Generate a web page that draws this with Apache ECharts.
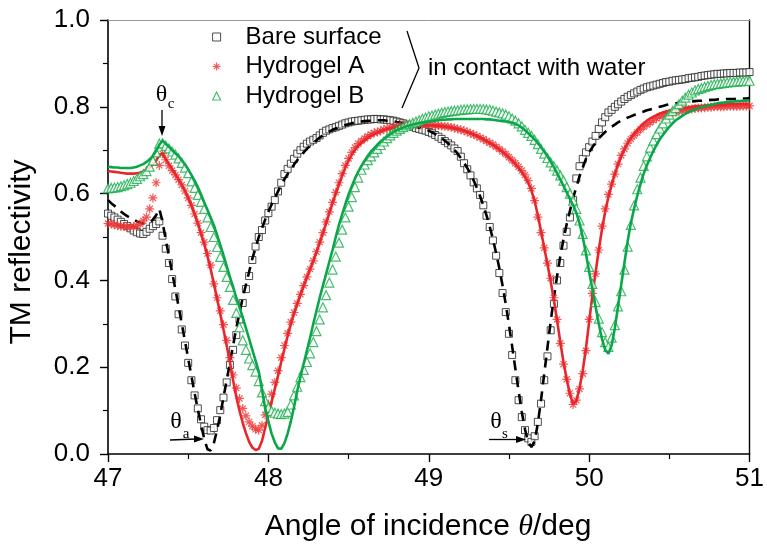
<!DOCTYPE html>
<html>
<head>
<meta charset="utf-8">
<title>TM reflectivity vs angle of incidence</title>
<script src="https://cdn.jsdelivr.net/npm/echarts@6/dist/echarts.min.js"></script>
<style>
  html, body { margin: 0; padding: 0; background: #fff; }
  #chart { width: 767px; height: 551px; }
</style>
</head>
<body>
<div id="chart"></div>
<script>
// Angle of incidence (deg), sampled every 0.02 deg
const angles = [
  47.00,47.02,47.04,47.06,47.08,47.10,47.12,47.14,47.16,47.18,
  47.20,47.22,47.24,47.26,47.28,47.30,47.32,47.34,47.36,47.38,
  47.40,47.42,47.44,47.46,47.48,47.50,47.52,47.54,47.56,47.58,
  47.60,47.62,47.64,47.66,47.68,47.70,47.72,47.74,47.76,47.78,
  47.80,47.82,47.84,47.86,47.88,47.90,47.92,47.94,47.96,47.98,
  48.00,48.02,48.04,48.06,48.08,48.10,48.12,48.14,48.16,48.18,
  48.20,48.22,48.24,48.26,48.28,48.30,48.32,48.34,48.36,48.38,
  48.40,48.42,48.44,48.46,48.48,48.50,48.52,48.54,48.56,48.58,
  48.60,48.62,48.64,48.66,48.68,48.70,48.72,48.74,48.76,48.78,
  48.80,48.82,48.84,48.86,48.88,48.90,48.92,48.94,48.96,48.98,
  49.00,49.02,49.04,49.06,49.08,49.10,49.12,49.14,49.16,49.18,
  49.20,49.22,49.24,49.26,49.28,49.30,49.32,49.34,49.36,49.38,
  49.40,49.42,49.44,49.46,49.48,49.50,49.52,49.54,49.56,49.58,
  49.60,49.62,49.64,49.66,49.68,49.70,49.72,49.74,49.76,49.78,
  49.80,49.82,49.84,49.86,49.88,49.90,49.92,49.94,49.96,49.98,
  50.00,50.02,50.04,50.06,50.08,50.10,50.12,50.14,50.16,50.18,
  50.20,50.22,50.24,50.26,50.28,50.30,50.32,50.34,50.36,50.38,
  50.40,50.42,50.44,50.46,50.48,50.50,50.52,50.54,50.56,50.58,
  50.60,50.62,50.64,50.66,50.68,50.70,50.72,50.74,50.76,50.78,
  50.80,50.82,50.84,50.86,50.88,50.90,50.92,50.94,50.96,50.98,
  51.00
];

// Bare surface: measured reflectivity
const bareMeasured = [
  0.554,0.549,0.545,0.540,0.535,0.530,0.525,0.520,0.515,0.511,
  0.508,0.507,0.512,0.519,0.525,0.530,0.536,0.503,0.473,0.440,
  0.403,0.363,0.322,0.287,0.250,0.210,0.170,0.135,0.105,0.080,
  0.063,0.055,0.054,0.060,0.078,0.101,0.130,0.165,0.205,0.240,
  0.274,0.310,0.348,0.380,0.410,0.447,0.478,0.500,0.516,0.538,
  0.555,0.570,0.585,0.605,0.625,0.645,0.657,0.669,0.680,0.692,
  0.700,0.708,0.715,0.720,0.724,0.728,0.734,0.740,0.745,0.748,
  0.751,0.753,0.756,0.759,0.762,0.764,0.766,0.767,0.768,0.769,
  0.770,0.771,0.771,0.772,0.772,0.771,0.771,0.770,0.769,0.768,
  0.766,0.764,0.762,0.759,0.756,0.754,0.751,0.749,0.747,0.745,
  0.742,0.739,0.735,0.731,0.726,0.721,0.716,0.711,0.704,0.698,
  0.685,0.670,0.656,0.642,0.626,0.612,0.597,0.573,0.549,0.523,
  0.492,0.457,0.417,0.371,0.327,0.277,0.228,0.170,0.124,0.085,
  0.055,0.036,0.028,0.041,0.074,0.116,0.170,0.225,0.285,0.346,
  0.400,0.440,0.480,0.512,0.545,0.585,0.635,0.663,0.680,0.695,
  0.707,0.720,0.733,0.749,0.764,0.776,0.787,0.793,0.800,0.806,
  0.812,0.818,0.823,0.827,0.831,0.835,0.839,0.842,0.845,0.847,
  0.849,0.851,0.853,0.855,0.857,0.858,0.860,0.861,0.862,0.863,
  0.864,0.866,0.867,0.868,0.869,0.871,0.872,0.873,0.874,0.875,
  0.876,0.876,0.877,0.877,0.878,0.878,0.878,0.879,0.879,0.879,
  0.880
];

// Bare surface: fitted curve
const bareFit = [
  0.585,0.578,0.572,0.565,0.559,0.553,0.548,0.544,0.540,0.536,
  0.533,0.531,0.531,0.534,0.540,0.550,0.565,0.535,0.493,0.456,
  0.418,0.380,0.340,0.300,0.260,0.220,0.180,0.140,0.103,0.068,
  0.035,0.011,0.008,0.025,0.055,0.090,0.130,0.170,0.210,0.250,
  0.290,0.325,0.360,0.390,0.420,0.450,0.475,0.500,0.520,0.540,
  0.558,0.575,0.590,0.605,0.620,0.633,0.645,0.656,0.667,0.677,
  0.686,0.695,0.703,0.710,0.717,0.723,0.729,0.734,0.739,0.743,
  0.747,0.750,0.753,0.756,0.758,0.760,0.762,0.764,0.765,0.766,
  0.767,0.768,0.768,0.769,0.769,0.769,0.769,0.768,0.768,0.767,
  0.765,0.764,0.762,0.760,0.758,0.756,0.754,0.752,0.749,0.747,
  0.745,0.741,0.737,0.733,0.728,0.722,0.716,0.709,0.701,0.692,
  0.682,0.671,0.659,0.645,0.630,0.613,0.594,0.573,0.550,0.524,
  0.495,0.463,0.428,0.388,0.345,0.298,0.248,0.196,0.145,0.097,
  0.057,0.027,0.016,0.030,0.070,0.125,0.185,0.245,0.305,0.360,
  0.410,0.455,0.495,0.530,0.560,0.590,0.615,0.640,0.660,0.680,
  0.695,0.707,0.717,0.727,0.735,0.742,0.748,0.754,0.759,0.764,
  0.768,0.771,0.775,0.778,0.781,0.784,0.787,0.789,0.792,0.794,
  0.796,0.798,0.800,0.802,0.804,0.806,0.807,0.808,0.809,0.810,
  0.811,0.812,0.812,0.813,0.814,0.814,0.815,0.815,0.816,0.816,
  0.817,0.817,0.817,0.818,0.818,0.818,0.819,0.819,0.819,0.819,
  0.820
];

// Hydrogel A: measured reflectivity
const gelAMeasured = [
  0.531,0.530,0.528,0.526,0.525,0.524,0.523,0.523,0.524,0.526,
  0.530,0.537,0.546,0.565,0.590,0.625,0.665,0.692,0.678,0.664,
  0.653,0.643,0.632,0.620,0.606,0.590,0.573,0.553,0.532,0.510,
  0.488,0.462,0.435,0.392,0.360,0.330,0.298,0.262,0.222,0.182,
  0.152,0.128,0.105,0.088,0.074,0.064,0.057,0.055,0.066,0.090,
  0.115,0.138,0.165,0.192,0.222,0.250,0.278,0.304,0.326,0.347,
  0.368,0.388,0.408,0.426,0.445,0.466,0.488,0.510,0.535,0.558,
  0.580,0.603,0.625,0.646,0.665,0.681,0.695,0.706,0.715,0.721,
  0.727,0.732,0.736,0.740,0.742,0.745,0.748,0.750,0.752,0.753,
  0.755,0.756,0.757,0.758,0.759,0.759,0.760,0.760,0.760,0.759,
  0.759,0.758,0.757,0.757,0.756,0.755,0.754,0.753,0.751,0.749,
  0.747,0.745,0.742,0.739,0.736,0.733,0.729,0.725,0.721,0.717,
  0.713,0.708,0.703,0.697,0.691,0.684,0.677,0.670,0.662,0.653,
  0.643,0.630,0.612,0.584,0.546,0.510,0.475,0.440,0.405,0.360,
  0.310,0.255,0.207,0.172,0.140,0.114,0.124,0.150,0.185,0.238,
  0.310,0.370,0.415,0.470,0.525,0.565,0.598,0.622,0.645,0.668,
  0.688,0.703,0.716,0.726,0.734,0.741,0.748,0.754,0.759,0.764,
  0.769,0.773,0.777,0.780,0.783,0.785,0.787,0.788,0.790,0.791,
  0.793,0.794,0.795,0.796,0.797,0.797,0.798,0.799,0.799,0.800,
  0.800,0.800,0.800,0.801,0.801,0.801,0.801,0.801,0.802,0.802,
  0.802
];

// Hydrogel A: fitted curve
const gelAFit = [
  0.652,0.651,0.650,0.649,0.648,0.647,0.646,0.646,0.646,0.647,
  0.648,0.651,0.655,0.660,0.667,0.676,0.688,0.693,0.680,0.668,
  0.656,0.645,0.633,0.620,0.606,0.590,0.573,0.553,0.532,0.508,
  0.484,0.456,0.426,0.393,0.358,0.323,0.287,0.250,0.212,0.170,
  0.132,0.100,0.072,0.048,0.028,0.015,0.009,0.012,0.030,0.060,
  0.090,0.120,0.150,0.180,0.212,0.242,0.272,0.300,0.324,0.346,
  0.367,0.387,0.407,0.426,0.445,0.465,0.487,0.509,0.532,0.555,
  0.578,0.600,0.621,0.641,0.660,0.676,0.690,0.701,0.710,0.717,
  0.723,0.728,0.733,0.737,0.740,0.743,0.746,0.748,0.750,0.752,
  0.753,0.754,0.755,0.756,0.757,0.757,0.758,0.758,0.758,0.758,
  0.757,0.757,0.756,0.756,0.755,0.754,0.753,0.752,0.750,0.749,
  0.747,0.745,0.742,0.739,0.736,0.733,0.729,0.725,0.721,0.717,
  0.712,0.707,0.702,0.696,0.690,0.683,0.676,0.668,0.659,0.649,
  0.638,0.625,0.607,0.583,0.550,0.513,0.475,0.437,0.398,0.355,
  0.308,0.258,0.212,0.172,0.138,0.115,0.122,0.152,0.192,0.243,
  0.305,0.365,0.418,0.470,0.518,0.558,0.592,0.620,0.645,0.667,
  0.686,0.702,0.716,0.728,0.738,0.747,0.755,0.762,0.768,0.773,
  0.777,0.781,0.784,0.787,0.789,0.791,0.793,0.795,0.796,0.797,
  0.798,0.799,0.800,0.801,0.802,0.802,0.803,0.803,0.804,0.804,
  0.805,0.805,0.805,0.806,0.806,0.806,0.806,0.807,0.807,0.807,
  0.807
];

// Hydrogel B: measured reflectivity
const gelBMeasured = [
  0.612,0.613,0.614,0.615,0.617,0.619,0.622,0.625,0.629,0.634,
  0.640,0.645,0.652,0.662,0.676,0.695,0.715,0.716,0.710,0.704,
  0.697,0.690,0.681,0.671,0.660,0.647,0.628,0.613,0.597,0.581,
  0.565,0.545,0.523,0.500,0.477,0.454,0.431,0.408,0.385,0.355,
  0.325,0.292,0.262,0.240,0.220,0.205,0.190,0.168,0.142,0.122,
  0.107,0.099,0.095,0.093,0.092,0.093,0.097,0.114,0.135,0.155,
  0.177,0.194,0.212,0.232,0.258,0.283,0.310,0.338,0.366,0.395,
  0.425,0.455,0.487,0.517,0.545,0.570,0.592,0.615,0.637,0.655,
  0.667,0.677,0.686,0.695,0.703,0.712,0.720,0.728,0.734,0.740,
  0.745,0.749,0.753,0.757,0.760,0.763,0.766,0.769,0.772,0.775,
  0.778,0.780,0.782,0.784,0.786,0.788,0.789,0.790,0.791,0.792,
  0.793,0.794,0.794,0.795,0.795,0.795,0.795,0.795,0.794,0.793,
  0.791,0.789,0.787,0.785,0.782,0.778,0.773,0.768,0.762,0.755,
  0.747,0.740,0.733,0.724,0.714,0.703,0.692,0.682,0.672,0.663,
  0.653,0.642,0.630,0.615,0.600,0.584,0.565,0.538,0.507,0.469,
  0.431,0.392,0.350,0.312,0.281,0.258,0.247,0.268,0.297,0.340,
  0.375,0.425,0.478,0.528,0.573,0.610,0.637,0.664,0.686,0.706,
  0.722,0.737,0.750,0.762,0.773,0.782,0.790,0.797,0.806,0.814,
  0.821,0.828,0.833,0.838,0.841,0.843,0.846,0.848,0.850,0.852,
  0.853,0.854,0.855,0.856,0.857,0.858,0.858,0.859,0.859,0.860,
  0.860
];

// Hydrogel B: fitted curve
const gelBFit = [
  0.662,0.661,0.660,0.660,0.659,0.659,0.659,0.659,0.660,0.662,
  0.665,0.668,0.673,0.679,0.687,0.698,0.713,0.722,0.715,0.708,
  0.700,0.693,0.686,0.677,0.667,0.656,0.643,0.630,0.615,0.598,
  0.580,0.563,0.545,0.527,0.505,0.482,0.458,0.433,0.408,0.385,
  0.360,0.338,0.315,0.290,0.265,0.240,0.215,0.190,0.148,0.105,
  0.075,0.047,0.027,0.013,0.012,0.025,0.047,0.075,0.109,0.145,
  0.178,0.208,0.238,0.268,0.300,0.330,0.360,0.388,0.415,0.443,
  0.470,0.500,0.528,0.552,0.576,0.598,0.617,0.635,0.650,0.664,
  0.676,0.687,0.697,0.705,0.713,0.720,0.726,0.732,0.737,0.742,
  0.746,0.749,0.752,0.755,0.757,0.759,0.761,0.763,0.764,0.765,
  0.766,0.767,0.768,0.769,0.770,0.770,0.771,0.771,0.772,0.772,
  0.772,0.772,0.772,0.772,0.772,0.772,0.772,0.772,0.771,0.771,
  0.770,0.769,0.768,0.767,0.766,0.765,0.763,0.761,0.757,0.752,
  0.746,0.739,0.732,0.725,0.716,0.707,0.697,0.686,0.674,0.661,
  0.647,0.633,0.618,0.603,0.588,0.573,0.556,0.532,0.500,0.462,
  0.420,0.380,0.340,0.300,0.265,0.240,0.231,0.250,0.290,0.340,
  0.390,0.440,0.490,0.532,0.565,0.595,0.622,0.646,0.665,0.682,
  0.698,0.712,0.725,0.735,0.745,0.754,0.762,0.769,0.774,0.779,
  0.784,0.788,0.791,0.794,0.797,0.799,0.801,0.803,0.805,0.806,
  0.808,0.809,0.810,0.811,0.812,0.812,0.813,0.813,0.814,0.814,
  0.815
];

// Tick labels
const xTicks = [47, 48, 49, 50, 51];
const yTicks = ['0.0', '0.2', '0.4', '0.6', '0.8', '1.0'];

const pairs = (ys) => angles.map((a, i) => [a, ys[i]]);

const RED = '#ee2f2f';
const RED_LINE = '#e8262b';
const GREEN = '#18ad4b';
const GREEN_LINE = '#0ba64a';
const SANS = '"Liberation Sans", Arial, sans-serif';
const SERIF = '"Liberation Serif", "Times New Roman", serif';
const ASTERISK = 'path://M5,0L5,10M0,5L10,5M1.6,1.6L8.4,8.4M1.6,8.4L8.4,1.6';

const chart = echarts.init(document.getElementById('chart'), null, { renderer: 'canvas' });

const axisLabelStyle = { color: '#000', fontFamily: SANS, fontSize: 26 };

chart.setOption({
  animation: false,
  backgroundColor: '#fff',
  grid: { left: 108, right: 12, top: 20, bottom: 97, containLabel: false },
  xAxis: [{
    type: 'value', min: 47, max: 51, interval: 1,
    axisLine: { show: true, onZero: false, lineStyle: { color: '#000', width: 1.6 } },
    axisTick: { show: true, inside: false, length: 8, lineStyle: { color: '#000', width: 1.4 } },
    minorTick: { show: true, splitNumber: 2, length: 5, lineStyle: { color: '#000', width: 1.2 } },
    splitLine: { show: false },
    axisLabel: Object.assign({ margin: 12, formatter: (v) => xTicks.includes(v) ? String(v) : '' }, axisLabelStyle)
  }, {
    type: 'value', min: 47, max: 51, position: 'top',
    axisLine: { show: true, onZero: false, lineStyle: { color: '#9a9a9a', width: 1 } },
    axisTick: { show: false }, axisLabel: { show: false }, splitLine: { show: false }
  }],
  yAxis: [{
    type: 'value', min: 0, max: 1, interval: 0.2,
    axisLine: { show: true, onZero: false, lineStyle: { color: '#000', width: 1.6 } },
    axisTick: { show: true, inside: false, length: 8, lineStyle: { color: '#000', width: 1.4 } },
    minorTick: { show: true, splitNumber: 2, length: 5, lineStyle: { color: '#000', width: 1.2 } },
    splitLine: { show: false },
    axisLabel: Object.assign({ margin: 18, formatter: (v) => yTicks[Math.round(v / 0.2)] }, axisLabelStyle)
  }, {
    type: 'value', min: 0, max: 1, position: 'right',
    axisLine: { show: true, onZero: false, lineStyle: { color: '#000', width: 1.4 } },
    axisTick: { show: false }, axisLabel: { show: false }, splitLine: { show: false }
  }],
  legend: {
    orient: 'vertical', left: 207, top: 20,
    itemWidth: 8, itemHeight: 8, itemGap: 5.5,
    data: [
      { name: 'Bare surface', icon: 'rect',
        itemStyle: { color: '#fff', borderColor: '#222', borderWidth: 1 } },
      { name: 'Hydrogel A', icon: ASTERISK,
        itemStyle: { color: 'rgba(0,0,0,0)', borderColor: RED, borderWidth: 1.1 } },
      { name: 'Hydrogel B', icon: 'triangle',
        itemStyle: { color: '#fff', borderColor: GREEN, borderWidth: 1.2 } }
    ],
    textStyle: { color: '#000', fontFamily: SANS, fontSize: 24, lineHeight: 24, padding: [0, 0, 0, 20] }
  },
  series: [
    {
      name: 'Bare surface', type: 'scatter', data: pairs(bareMeasured), z: 2,
      symbol: 'rect', symbolSize: 7,
      itemStyle: { color: '#fff', borderColor: '#222', borderWidth: 1 }
    },
    {
      name: 'Bare surface fit', type: 'line', data: pairs(bareFit), z: 3,
      showSymbol: false, symbol: 'none',
      lineStyle: { color: '#000', width: 2.6, type: [10, 7] }
    },
    {
      name: 'Hydrogel A', type: 'scatter', data: pairs(gelAMeasured), z: 4,
      symbol: ASTERISK, symbolSize: 9,
      itemStyle: { color: 'rgba(0,0,0,0)', borderColor: RED, borderWidth: 1.2 }
    },
    {
      name: 'Hydrogel A fit', type: 'line', data: pairs(gelAFit), z: 5,
      showSymbol: false, symbol: 'none',
      lineStyle: { color: RED_LINE, width: 2.6 }
    },
    {
      name: 'Hydrogel B', type: 'scatter', data: pairs(gelBMeasured), z: 6,
      symbol: 'triangle', symbolSize: 9,
      itemStyle: { color: '#fff', borderColor: GREEN, borderWidth: 1.2 }
    },
    {
      name: 'Hydrogel B fit', type: 'line', data: pairs(gelBFit), z: 7,
      showSymbol: false, symbol: 'none',
      lineStyle: { color: GREEN_LINE, width: 2.6 }
    }
  ],
  graphic: [
    // brace grouping the legend entries
    { type: 'polyline', z: 20, shape: { points: [[407, 31], [419, 68], [402, 108]] },
      style: { stroke: '#000', lineWidth: 1.3, fill: null } },
    { type: 'text', z: 20, x: 428, y: 68,
      style: { text: 'in contact with water', fontFamily: SANS, fontSize: 24, fill: '#000', verticalAlign: 'middle' } },

    // critical angle marker
    { type: 'text', z: 20, x: 161.5, y: 95,
      style: { text: 'θ', fontFamily: SERIF, fontSize: 24, fill: '#000', align: 'center', verticalAlign: 'middle' } },
    { type: 'text', z: 20, x: 171, y: 104,
      style: { text: 'c', fontFamily: SERIF, fontSize: 15, fill: '#000', align: 'center', verticalAlign: 'middle' } },
    { type: 'line', z: 20, shape: { x1: 162, y1: 110, x2: 162, y2: 128 }, style: { stroke: '#000', lineWidth: 1.3 } },
    { type: 'polygon', z: 20, shape: { points: [[158.5, 126], [165.5, 126], [162, 136]] }, style: { fill: '#000' } },

    // theta_a marker
    { type: 'text', z: 20, x: 176, y: 422,
      style: { text: 'θ', fontFamily: SERIF, fontSize: 24, fill: '#000', align: 'center', verticalAlign: 'middle' } },
    { type: 'text', z: 20, x: 186, y: 434,
      style: { text: 'a', fontFamily: SERIF, fontSize: 15, fill: '#000', align: 'center', verticalAlign: 'middle' } },
    { type: 'line', z: 20, shape: { x1: 170, y1: 440, x2: 196, y2: 439 }, style: { stroke: '#000', lineWidth: 1.3 } },
    { type: 'polygon', z: 20, shape: { points: [[194, 435.5], [194, 442.5], [204, 439]] }, style: { fill: '#000' } },

    // theta_s marker
    { type: 'text', z: 20, x: 496, y: 422,
      style: { text: 'θ', fontFamily: SERIF, fontSize: 24, fill: '#000', align: 'center', verticalAlign: 'middle' } },
    { type: 'text', z: 20, x: 505, y: 434,
      style: { text: 's', fontFamily: SERIF, fontSize: 15, fill: '#000', align: 'center', verticalAlign: 'middle' } },
    { type: 'line', z: 20, shape: { x1: 489, y1: 439.5, x2: 518, y2: 439.5 }, style: { stroke: '#000', lineWidth: 1.3 } },
    { type: 'polygon', z: 20, shape: { points: [[516, 436], [516, 443], [526, 439.5]] }, style: { fill: '#000' } },

    // axis titles
    { type: 'text', z: 20, x: 428, y: 527,
      style: {
        text: '{a|Angle of incidence }{t|θ}{a|/deg}',
        align: 'center', verticalAlign: 'middle',
        rich: {
          a: { fontFamily: SANS, fontSize: 30, fill: '#000' },
          t: { fontFamily: SERIF, fontStyle: 'italic', fontSize: 30, fill: '#000' }
        }
      } },
    { type: 'text', z: 20, x: 22, y: 252, rotation: Math.PI / 2,
      style: { text: 'TM reflectivity', fontFamily: SANS, fontSize: 30, fill: '#000', align: 'center', verticalAlign: 'middle' } }
  ]
});
</script>
</body>
</html>
